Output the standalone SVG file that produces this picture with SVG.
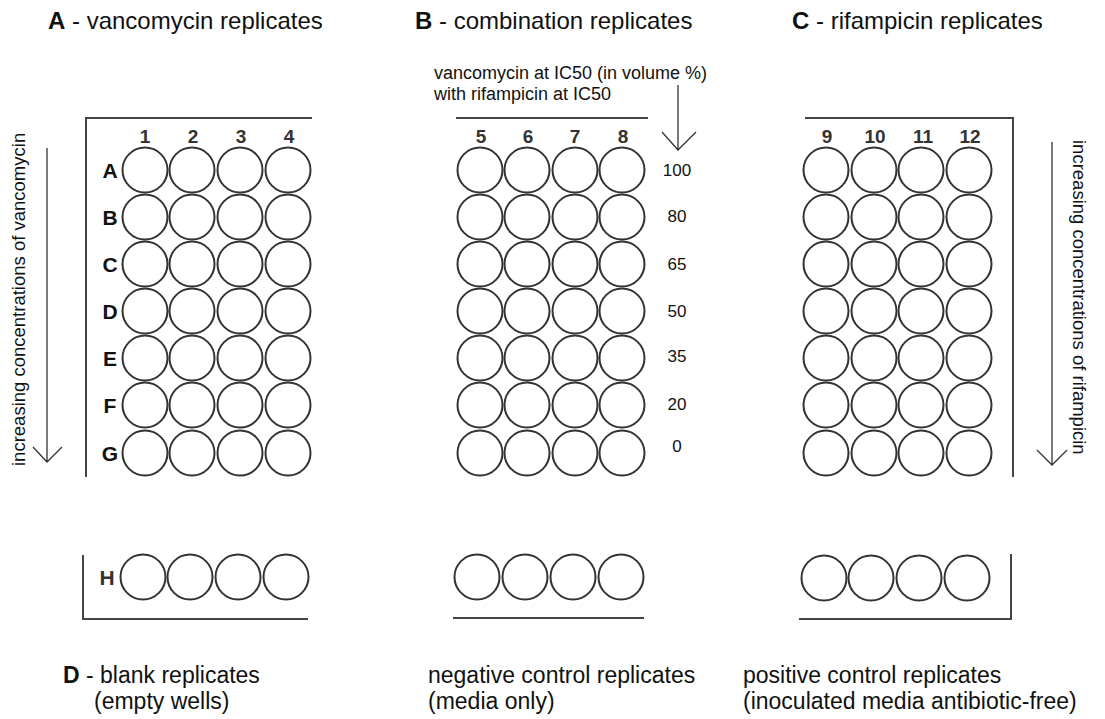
<svg xmlns="http://www.w3.org/2000/svg" width="1105" height="719" viewBox="0 0 1105 719">
<style>
text{font-family:"Liberation Sans",Arial,sans-serif;fill:#111}
.t{font-size:24px}
.b{font-weight:bold}
.lab{font-size:23px}
.col{font-size:19px;font-weight:bold;fill:#333;text-anchor:middle}
.row{font-size:21px;font-weight:bold;fill:#333;text-anchor:middle}
.val{font-size:17px;text-anchor:middle}
.hdr{font-size:18px}
.rot{font-size:18.5px}
.w{fill:#fff;stroke:#333;stroke-width:2}
.edge{fill:none;stroke:#444;stroke-width:2}
.arr{fill:none;stroke:#333;stroke-width:1.3}
</style>
<defs>
<circle id="c" r="22.5" class="w"/>
</defs>
<rect width="1105" height="719" fill="#fff"/>

<g id="titles">
<text class="t" x="48" y="29"><tspan class="b">A</tspan> - vancomycin replicates</text>
<text class="t" x="415" y="29"><tspan class="b">B</tspan> - combination replicates</text>
<text class="t" x="792" y="29"><tspan class="b">C</tspan> - rifampicin replicates</text>
</g>

<g id="plateA">
<path class="edge" d="M312 118 H86 V477"/>
<text class="col" x="145" y="143">1</text><text class="col" x="193" y="143">2</text><text class="col" x="241" y="143">3</text><text class="col" x="289" y="143">4</text>
<g class="row">
<text x="110" y="178">A</text><text x="110" y="225">B</text><text x="110" y="272">C</text><text x="110" y="319">D</text><text x="110" y="366">E</text><text x="110" y="413">F</text><text x="110" y="461">G</text>
</g>
<g id="wellsA">
<use href="#c" x="145" y="170"/><use href="#c" x="192" y="170"/><use href="#c" x="240" y="170"/><use href="#c" x="288" y="170"/>
<use href="#c" x="145" y="217"/><use href="#c" x="192" y="217"/><use href="#c" x="240" y="217"/><use href="#c" x="288" y="217"/>
<use href="#c" x="145" y="264"/><use href="#c" x="192" y="264"/><use href="#c" x="240" y="264"/><use href="#c" x="288" y="264"/>
<use href="#c" x="145" y="311"/><use href="#c" x="192" y="311"/><use href="#c" x="240" y="311"/><use href="#c" x="288" y="311"/>
<use href="#c" x="145" y="358"/><use href="#c" x="192" y="358"/><use href="#c" x="240" y="358"/><use href="#c" x="288" y="358"/>
<use href="#c" x="145" y="405"/><use href="#c" x="192" y="405"/><use href="#c" x="240" y="405"/><use href="#c" x="288" y="405"/>
<use href="#c" x="145" y="453"/><use href="#c" x="192" y="453"/><use href="#c" x="240" y="453"/><use href="#c" x="288" y="453"/>
</g>
</g>

<g id="plateB">
<path class="edge" d="M456 118 H648"/>
<text class="col" x="481" y="143">5</text><text class="col" x="528" y="143">6</text><text class="col" x="575" y="143">7</text><text class="col" x="623" y="143">8</text>
<g id="wellsB">
<use href="#c" x="480" y="170"/><use href="#c" x="527" y="170"/><use href="#c" x="575" y="170"/><use href="#c" x="622" y="170"/>
<use href="#c" x="480" y="217"/><use href="#c" x="527" y="217"/><use href="#c" x="575" y="217"/><use href="#c" x="622" y="217"/>
<use href="#c" x="480" y="264"/><use href="#c" x="527" y="264"/><use href="#c" x="575" y="264"/><use href="#c" x="622" y="264"/>
<use href="#c" x="480" y="311"/><use href="#c" x="527" y="311"/><use href="#c" x="575" y="311"/><use href="#c" x="622" y="311"/>
<use href="#c" x="480" y="358"/><use href="#c" x="527" y="358"/><use href="#c" x="575" y="358"/><use href="#c" x="622" y="358"/>
<use href="#c" x="480" y="405"/><use href="#c" x="527" y="405"/><use href="#c" x="575" y="405"/><use href="#c" x="622" y="405"/>
<use href="#c" x="480" y="453"/><use href="#c" x="527" y="453"/><use href="#c" x="575" y="453"/><use href="#c" x="622" y="453"/>
</g>
<text class="hdr" x="434" y="79">vancomycin at IC50 (in volume %)</text>
<text class="hdr" x="434" y="100">with rifampicin at IC50</text>
<g class="val">
<text x="677" y="176">100</text><text x="677" y="222">80</text><text x="677" y="270">65</text><text x="677" y="317">50</text><text x="677" y="362">35</text><text x="677" y="410">20</text><text x="677" y="452">0</text>
</g>
</g>

<g id="plateC">
<path class="edge" d="M805 118 H1013 V477"/>
<text class="col" x="827" y="143">9</text><text class="col" x="875" y="143">10</text><text class="col" x="923" y="143">11</text><text class="col" x="970" y="143">12</text>
<g id="wellsC">
<use href="#c" x="826" y="170"/><use href="#c" x="874" y="170"/><use href="#c" x="921" y="170"/><use href="#c" x="969" y="170"/>
<use href="#c" x="826" y="217"/><use href="#c" x="874" y="217"/><use href="#c" x="921" y="217"/><use href="#c" x="969" y="217"/>
<use href="#c" x="826" y="264"/><use href="#c" x="874" y="264"/><use href="#c" x="921" y="264"/><use href="#c" x="969" y="264"/>
<use href="#c" x="826" y="311"/><use href="#c" x="874" y="311"/><use href="#c" x="921" y="311"/><use href="#c" x="969" y="311"/>
<use href="#c" x="826" y="358"/><use href="#c" x="874" y="358"/><use href="#c" x="921" y="358"/><use href="#c" x="969" y="358"/>
<use href="#c" x="826" y="405"/><use href="#c" x="874" y="405"/><use href="#c" x="921" y="405"/><use href="#c" x="969" y="405"/>
<use href="#c" x="826" y="453"/><use href="#c" x="874" y="453"/><use href="#c" x="921" y="453"/><use href="#c" x="969" y="453"/>
</g>
</g>

<g id="rowH_A">
<path class="edge" d="M83 555 V619 H308"/>
<text class="row" x="107" y="585">H</text>
<use href="#c" x="143" y="577"/><use href="#c" x="190" y="577"/><use href="#c" x="238" y="577"/><use href="#c" x="286" y="577"/>
</g>
<g id="rowH_B">
<path class="edge" d="M453 618 H644"/>
<use href="#c" x="477" y="577"/><use href="#c" x="525" y="577"/><use href="#c" x="573" y="577"/><use href="#c" x="621" y="577"/>
</g>
<g id="rowH_C">
<path class="edge" d="M799 619 H1011 V554"/>
<use href="#c" x="824" y="578"/><use href="#c" x="871" y="578"/><use href="#c" x="919" y="578"/><use href="#c" x="967" y="578"/>
</g>

<g id="connectors">
<path class="arr" d="M47 148 V462 M33 447 L47 462 L62 447"/>
<path class="arr" d="M678 85 V150 M662 132 L678 150 L696 132"/>
<path class="arr" d="M1052 142 V465 M1037 450 L1052 465 L1067 450"/>
</g>

<g id="sideLabels">
<text class="rot" transform="translate(25,466) rotate(-90)">increasing concentrations of vancomycin</text>
<text class="rot" transform="translate(1073,140) rotate(90)">increasing concentrations of rifampicin</text>
</g>

<g id="bottomLabels">
<text class="lab" x="63" y="683"><tspan class="b">D</tspan> - blank replicates</text>
<text class="lab" x="94" y="709">(empty wells)</text>
<text class="lab" x="428" y="683">negative control replicates</text>
<text class="lab" x="428" y="709">(media only)</text>
<text class="lab" x="743" y="683">positive control replicates</text>
<text class="lab" x="743" y="709">(inoculated media antibiotic-free)</text>
</g>
</svg>
